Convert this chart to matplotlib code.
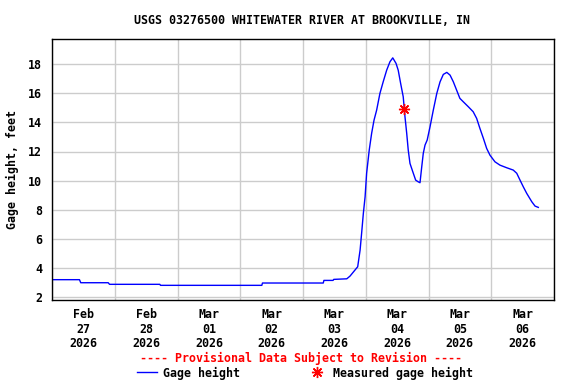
import numpy as np
import pandas as pd
import matplotlib
matplotlib.use("Agg")
import matplotlib.pyplot as plt
import matplotlib.dates as mdates
from matplotlib.lines import Line2D

# gage height readings
times = [
    "2026-02-27 00:00", "2026-02-27 10:30", "2026-02-27 11:00", "2026-02-27 21:30",
    "2026-02-27 22:00", "2026-02-28 17:15", "2026-02-28 17:30", "2026-03-02 08:15",
    "2026-03-02 08:30", "2026-03-03 07:45", "2026-03-03 08:00", "2026-03-03 11:30",
    "2026-03-03 11:45", "2026-03-03 16:45", "2026-03-03 18:00", "2026-03-03 20:55",
    "2026-03-03 21:50", "2026-03-03 22:25", "2026-03-03 23:05", "2026-03-03 23:45",
    "2026-03-04 00:20", "2026-03-04 01:20", "2026-03-04 02:15", "2026-03-04 03:10",
    "2026-03-04 04:10", "2026-03-04 05:25", "2026-03-04 06:40", "2026-03-04 08:00",
    "2026-03-04 09:15", "2026-03-04 10:20", "2026-03-04 11:35", "2026-03-04 12:25",
    "2026-03-04 13:20", "2026-03-04 14:20", "2026-03-04 15:00", "2026-03-04 15:40",
    "2026-03-04 16:15", "2026-03-04 16:55", "2026-03-04 18:00", "2026-03-04 19:05",
    "2026-03-04 20:05", "2026-03-04 20:45", "2026-03-04 21:25", "2026-03-04 22:00",
    "2026-03-04 22:40", "2026-03-04 23:30", "2026-03-05 00:35", "2026-03-05 01:50",
    "2026-03-05 03:10", "2026-03-05 04:25", "2026-03-05 05:40", "2026-03-05 07:00",
    "2026-03-05 08:15", "2026-03-05 09:30", "2026-03-05 10:45", "2026-03-05 12:00",
    "2026-03-05 13:20", "2026-03-05 15:15", "2026-03-05 17:05", "2026-03-05 18:25",
    "2026-03-05 19:40", "2026-03-05 21:00", "2026-03-05 22:15", "2026-03-05 23:30",
    "2026-03-06 01:25", "2026-03-06 03:20", "2026-03-06 05:55", "2026-03-06 08:25",
    "2026-03-06 09:45", "2026-03-06 11:00", "2026-03-06 12:15", "2026-03-06 13:35",
    "2026-03-06 15:30", "2026-03-06 16:45", "2026-03-06 18:00",
]
gage = [
    3.17, 3.17, 2.96, 2.96,
    2.85, 2.85, 2.78, 2.78,
    2.94, 2.94, 3.12, 3.12,
    3.19, 3.23, 3.42, 4.06,
    5.20, 6.36, 7.74, 8.88,
    10.50, 12.10, 13.25, 14.16,
    14.85, 16.00, 16.80, 17.60,
    18.18, 18.45, 18.07, 17.60,
    16.70, 15.77, 14.40, 13.25,
    12.10, 11.18, 10.60, 10.03,
    9.91, 9.85, 10.95, 11.87,
    12.44, 12.79, 13.70, 14.85,
    16.00, 16.80, 17.31, 17.45,
    17.26, 16.80, 16.23, 15.66,
    15.42, 15.08, 14.74, 14.28,
    13.59, 12.90, 12.21, 11.75,
    11.29, 11.06, 10.88, 10.72,
    10.50, 10.03, 9.57, 9.11,
    8.54, 8.24, 8.15,
]

meas_times = ["2026-03-04 14:40"]
meas_gage = [14.92]

day_labels = ["Feb\n27\n2026", "Feb\n28\n2026", "Mar\n01\n2026", "Mar\n02\n2026",
              "Mar\n03\n2026", "Mar\n04\n2026", "Mar\n05\n2026", "Mar\n06\n2026"]
yticks = [2, 4, 6, 8, 10, 12, 14, 16, 18]

t = pd.to_datetime(times)
tm = pd.to_datetime(meas_times)

plt.rcParams['font.family'] = ['DejaVu Sans Mono']
plt.rcParams['font.weight'] = 'bold'
fs = 8.4

fig = plt.figure(figsize=(5.76, 3.84), dpi=100)
ax = fig.add_axes([52 / 576, 1 - 300 / 384, 502 / 576, 261 / 384])

ax.plot(t, gage, color='#0000ff', lw=1.0)
ax.plot(tm, meas_gage, linestyle='none', marker=(8, 2, 0), markersize=8,
        markeredgecolor='#ff0000', markeredgewidth=1.0)

start = pd.Timestamp("2026-02-27")
end = pd.Timestamp("2026-03-07")
ax.set_xlim(start, end)
ax.set_ylim(1.77, 19.75)

midnights = pd.date_range(start, end, freq='D')
noons = midnights[:-1] + pd.Timedelta(hours=12)
ax.set_xticks(midnights)
ax.set_xticklabels([])
ax.set_xticks(noons, minor=True)
ax.set_xticklabels(day_labels, minor=True, fontsize=fs, fontweight='bold',
                   linespacing=1.12)
ax.tick_params(axis='x', which='both', length=0)
ax.tick_params(axis='x', which='minor', pad=6)

ax.set_yticks(yticks)
ax.set_yticklabels([str(v) for v in yticks], fontsize=fs, fontweight='bold')
ax.tick_params(axis='y', length=0, pad=7)

ax.grid(True, which='major', color='#cccccc', lw=1.0)
ax.set_axisbelow(True)
for s in ax.spines.values():
    s.set_color('black')
    s.set_linewidth(1.0)

ax.set_ylabel("Gage height, feet", fontsize=fs, fontweight='bold', labelpad=7)

fig.text(301.5 / 576, 1 - 20 / 384, "USGS 03276500 WHITEWATER RIVER AT BROOKVILLE, IN",
         ha='center', va='center', fontsize=fs, fontweight='bold')
fig.text(301.5 / 576, 1 - 358 / 384, "---- Provisional Data Subject to Revision ----",
         ha='center', va='center', fontsize=fs, fontweight='bold', color='#ff0000')

handles = [
    Line2D([], [], color='#0000ff', lw=1.0),
    Line2D([], [], linestyle='none', marker=(8, 2, 0), markersize=8,
           markeredgecolor='#ff0000', markeredgewidth=1.0),
]
fig.legend(handles, ["Gage height", "Measured gage height"], loc='center',
           bbox_to_anchor=(305 / 576, 1 - 373 / 384), ncol=2, frameon=False,
           prop={'size': fs, 'weight': 'bold'}, handlelength=1.7,
           handletextpad=0.5, columnspacing=5.8, borderpad=0, borderaxespad=0)

fig.savefig("out.png", dpi=100)
